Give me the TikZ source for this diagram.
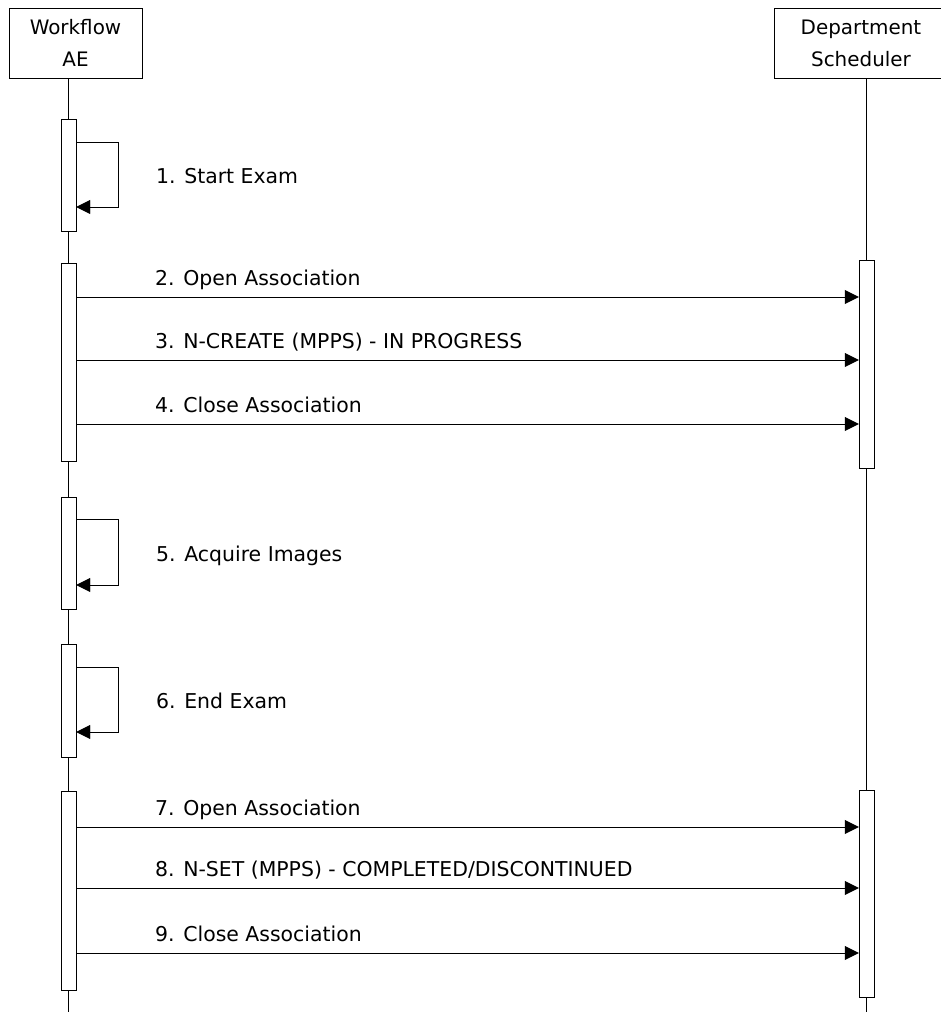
\documentclass[tikz,border=0pt]{standalone}
\usepackage{fontspec}
\setmainfont{DejaVu Sans}
\usepackage{tikz}
\usetikzlibrary{
        arrows.meta,
        positioning
    }
\tikzset{>={Triangle[length=14bp,width=14bp]},line width=1.3bp}
\tikzset{
    actor/.style={draw,minimum height=70bp,align=center,inner sep=0pt,
        font=\fontsize{20}{32}\selectfont},
    act/.style={draw,fill=white,minimum width=15bp,inner sep=0pt},
    lbl/.style={anchor=base west,inner sep=0pt,font=\fontsize{20.5}{24}\selectfont}
}

\begin{document}
\begin{tikzpicture}[x=1bp,y=-1bp]
                    \useasboundingbox (0,0) rectangle (941,1012);
                    \clip (0,0) rectangle (941,1012);
                    \node[actor,minimum width=133bp] (wf) at (75.5,43) {Workflow\\AE};
                    \node[actor,minimum width=174bp] (ds) at (861,43) {Department\\Scheduler};
                    \coordinate (wfend) at (68.5,1012);
                    \coordinate (dsend) at (866.5,1012);
                    \draw (wf.south -| wfend) -- (wfend);
                    \draw (ds.south -| dsend) -- (dsend);
                    \node[act,minimum height=112bp] (a1) at (68.5,175)   {};
                    \node[act,minimum height=198bp] (a2) at (68.5,362)   {};
                    \node[act,minimum height=112bp] (a3) at (68.5,553)   {};
                    \node[act,minimum height=113bp] (a4) at (68.5,700.5) {};
                    \node[act,minimum height=199bp] (a5) at (68.5,890.5) {};
                    \node[act,minimum height=208bp] (b1) at (866.5,364)  {};
                    \node[act,minimum height=207bp] (b2) at (866.5,893.5) {};
                    \foreach \bar/\top/\bot/\txt in {
                            a1/142/207/{1. Start Exam},
                            a3/519/585/{5. Acquire Images},
                            a4/667/732/{6. End Exam}} {
                        \draw[->] (\bar.east |- 0,\top) -- ++(42,0) |- (\bar.east |- 0,\bot);
                        \node[lbl] (s\bar) at (156,{(\top+\bot)/2+9}) {\txt};
                    }
                    \foreach \from/\to/\y/\txt in {
                            a2/b1/297/{2. Open Association},
                            a2/b1/360/{3. N-CREATE (MPPS) - IN PROGRESS},
                            a2/b1/424/{4. Close Association},
                            a5/b2/827/{7. Open Association},
                            a5/b2/888/{8. N-SET (MPPS) - COMPLETED/DISCONTINUED},
                            a5/b2/953/{9. Close Association}} {
                        \draw[->] (\from.east |- 0,\y) -- (\to.west |- 0,\y);
                        \node[lbl] (m\y) at (155,\y-12) {\txt};
                    }
                \end{tikzpicture}
\end{document}
